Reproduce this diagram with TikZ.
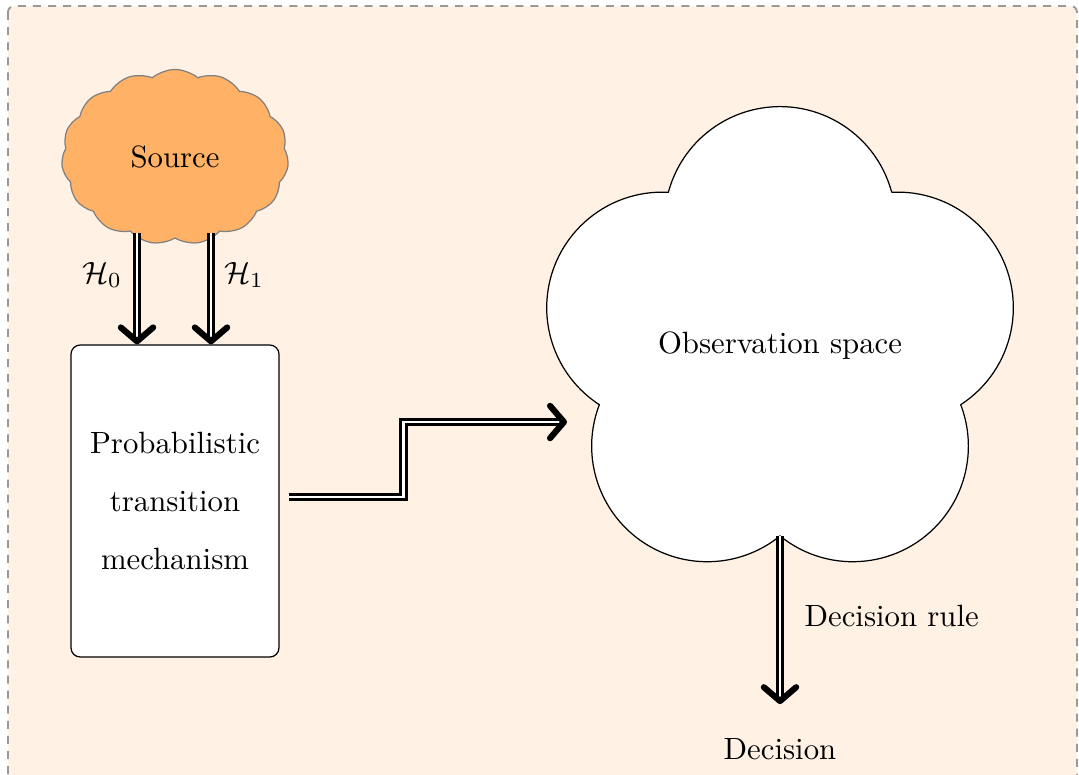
\documentclass[tikz,border=0pt]{standalone}
\usetikzlibrary{shapes.symbols,arrows.meta,calc}
\begin{document}
\begin{tikzpicture}[x=0.325pt,y=0.325pt,
  dbl/.style={double, line width=1pt, double distance=0.8pt,
    -{Straight Barb[length=4.5pt,width=10.5pt,line width=2pt,round]}},
  puff/.style={draw=black, fill=white, line width=0.4pt},
  panel/.style={fill=orange!10, draw=gray!80, line width=0.6pt,
    dash pattern=on 2.6pt off 2.3pt, rounded corners=2pt},
  lbl/.style={inner sep=0pt},
]
\useasboundingbox (0,0) rectangle (1079,-774);
% background panel
\begin{scope}
  \clip (0,0) rectangle (1079,-774);
  \filldraw[panel] (8,-6) rectangle (1077,-800);
\end{scope}

% source cloud
\node[cloud, cloud puffs=15, cloud puff arc=80, aspect=1.3,
  draw=gray, fill=orange!60, minimum width=73.8pt, minimum height=56.9pt,
  inner sep=0pt, miter limit=25] (src) at (175,-157) {Source};

% transition mechanism
\node[draw, fill=white, rounded corners=3pt, line width=0.4pt,
  minimum width=67.6pt, minimum height=101.4pt, align=center]
  (mech) at (175,-501) {Probabilistic\\[6.85pt]transition\\[6.85pt]mechanism};

% observation space: five-lobed cloud
\draw[puff] ([shift={(54:190)}]780,-346)
  arc[start angle=15,end angle=165,radius=115.6]
  arc[start angle=87,end angle=237,radius=115.6]
  arc[start angle=159,end angle=309,radius=115.6]
  arc[start angle=231,end angle=381,radius=115.6]
  arc[start angle=303,end angle=453,radius=115.6] -- cycle;
\node (obs) at (780,-346) {Observation space};
\coordinate (obsbot) at ([shift={(270:190)}]obs.center);
\coordinate (obsin) at (567,-422);

\node[anchor=base] (dec) at (780,-759) {Decision};

% connectors
\draw[dbl] ($(src.center)+(-38,-76)$) -- ($(mech.north)+(-38,0)$);
\draw[dbl] ($(src.center)+(36,-76)$) -- ($(mech.north)+(36,0)$);
\draw[dbl] ($(mech.east)+(9,4)$) -- ++(115,0) |- (obsin);
\draw[dbl] (obsbot) -- ($(dec.north)+(0,23)$);

% labels
\node[lbl, anchor=base] (h0) at (102,-283) {$\mathcal{H}_0$};
\node[lbl, anchor=base] (h1) at (244,-283) {$\mathcal{H}_1$};
\node[lbl, anchor=base west] (rule) at (804,-626) {Decision rule};
\end{tikzpicture}
\end{document}
